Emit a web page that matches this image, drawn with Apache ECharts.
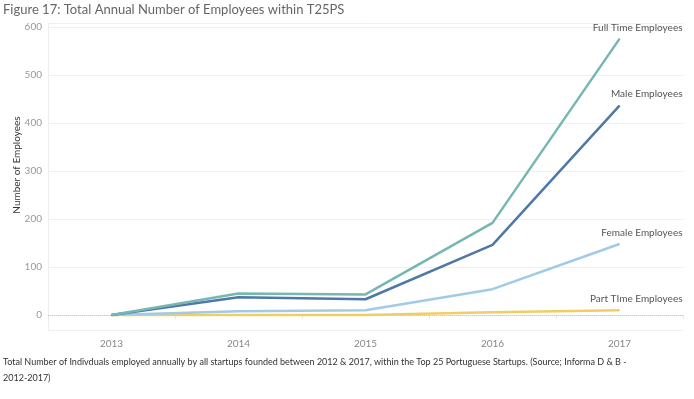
<!DOCTYPE html>
<html>
<head>
<meta charset="utf-8">
<script src="https://cdn.jsdelivr.net/npm/echarts@6/dist/echarts.min.js"></script>
<style>
  html, body { margin: 0; padding: 0; background: #fff; }
  #chart { width: 694px; height: 399px; }
</style>
</head>
<body>
<div id="chart"></div>
<script>
// years on the x axis
const years = ["2013", "2014", "2015", "2016", "2017"];
// employees per year
const fullTime = [0, 45, 43, 192, 575];
const male = [0, 37, 33, 146, 436];
const female = [0, 8, 10, 54, 148];
const partTime = [0, 0, 0, 6, 10];
const seriesNames = ["Full Time Employees", "Male Employees", "Female Employees", "Part TIme Employees"];
const colors = ["#76b7b2", "#4e79a7", "#a0cbe8", "#f1ce63"];

const font = "Lato, 'Open Sans', sans-serif";

// only the last point gets a text label (like the tableau line labels)
let withEndLabel = (arr) => arr.map((v, i) => {
  if (i < arr.length - 1) return v;
  return {
    value: v,
    label: {
      show: true,
      position: "top",
      align: "right",
      offset: [63, -1],
      formatter: "{a}",
      color: "#555",
      fontSize: 10,
      fontFamily: font,
    },
  };
});

const allData = [fullTime, male, female, partTime];

let myChart = echarts.init(document.getElementById("chart"));
let option = {
  animation: false,
  textStyle: { fontFamily: font },
  grid: { left: 48, right: 11, top: 23, bottom: 69, containLabel: false },
  xAxis: {
    type: "category",
    data: years,
    boundaryGap: true,
    axisLine: { show: true, lineStyle: { color: "#e6e6e6" } },
    axisTick: { show: true, length: 4, lineStyle: { color: "#e6e6e6" } },
    axisLabel: { color: "#888", fontSize: 10, margin: 9, fontFamily: font },
    splitLine: { show: false },
  },
  yAxis: {
    type: "value",
    min: -31,
    max: 608,
    splitNumber: 6,
    axisLine: { show: true, lineStyle: { color: "#eeeeee" } },
    axisTick: { show: false },
    axisLabel: { color: "#999", fontSize: 10, margin: 6, showMinLabel: false, showMaxLabel: false, fontFamily: font },
    splitLine: { show: true, lineStyle: { color: "#f0f0f0" } },
  },
  graphic: [
    {
      type: "text",
      left: 3,
      top: 3,
      style: { text: "Figure 17: Total Annual Number of Employees within T25PS", fill: "#666", fontSize: 13, fontFamily: font },
    },
    {
      type: "text",
      x: 17,
      y: 165,
      rotation: Math.PI / 2,
      style: { text: "Number of Employees", fill: "#333", fontSize: 10, fontFamily: font, align: "center", verticalAlign: "middle" },
    },
    {
      type: "text",
      left: 3,
      top: 354,
      style: {
        text: "Total Number of Indivduals employed annually by all startups founded between 2012 & 2017, within the Top 25 Portuguese Startups. (Source; Informa D & B -\n2012-2017)",
        fill: "#333",
        fontSize: 9,
        lineHeight: 16,
        fontFamily: font,
      },
    },
  ],
  series: allData.map((d, i) => ({
    name: seriesNames[i],
    type: "line",
    data: withEndLabel(d),
    symbol: "circle",
    symbolSize: 1,
    showSymbol: true,
    z: 10 - i,
    lineStyle: { width: 2.5, color: colors[i] },
    itemStyle: { color: colors[i] },
    markLine: i === 0 ? {
      silent: true,
      symbol: "none",
      label: { show: false },
      lineStyle: { type: "dotted", color: "#c8c8c8", width: 1 },
      data: [{ yAxis: 0 }],
      z: 1,
    } : undefined,
  })),
};
myChart.setOption(option);
window.addEventListener("resize", () => {
  myChart.resize();
});
</script>
</body>
</html>
